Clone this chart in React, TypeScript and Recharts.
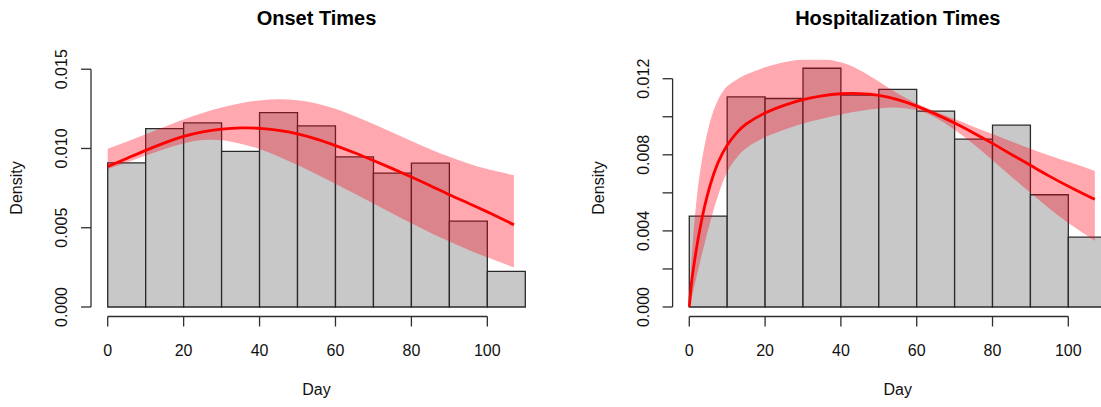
import React from 'react';
import { ComposedChart, Area, Line, XAxis, YAxis, ReferenceArea, ReferenceLine } from 'recharts';

// ---------- data ----------
const binEdges = [0, 10, 20, 30, 40, 50, 60, 70, 80, 90, 100, 110];
const onsetDensity = [0.00909, 0.01125, 0.01161, 0.00982, 0.01226, 0.01142, 0.00947, 0.00845, 0.00908, 0.00542, 0.00225];
const hospDensity = [0.00478, 0.01105, 0.01096, 0.01255, 0.01114, 0.01144, 0.0103, 0.00882, 0.00956, 0.0059, 0.00367];

const onsetDays = [0, 5, 10, 15, 20, 25, 30, 35, 40, 45, 50, 55, 60, 65, 70, 75, 80, 85, 90, 95, 100, 105, 107];
const onsetFit = [0.00886, 0.00937, 0.00988, 0.01035, 0.01076, 0.01105, 0.01122, 0.0113, 0.01127, 0.01114, 0.01092, 0.01059, 0.01018, 0.00973, 0.00924, 0.00873, 0.0082, 0.00765, 0.00708, 0.00655, 0.006, 0.00542, 0.00518];
const onsetLower = [0.0087, 0.00912, 0.00955, 0.00997, 0.01032, 0.01053, 0.01052, 0.0103, 0.00997, 0.0095, 0.00895, 0.00838, 0.00778, 0.00716, 0.00653, 0.0059, 0.00528, 0.00469, 0.00413, 0.00361, 0.00313, 0.00268, 0.0025];
const onsetUpper = [0.00999, 0.01042, 0.01089, 0.01137, 0.01183, 0.01224, 0.01258, 0.01285, 0.01303, 0.0131, 0.01304, 0.01284, 0.0125, 0.01205, 0.01154, 0.01101, 0.01047, 0.00995, 0.00947, 0.00905, 0.0087, 0.00842, 0.00832];

const hospDays = [0, 0.5, 1, 2, 3, 4, 5.5, 7.5, 10, 12.5, 15, 20, 25, 30, 35, 40, 45, 50, 55, 60, 65, 70, 75, 80, 85, 90, 95, 100, 105, 107];
const hospFit = [0, 0.0011, 0.0019, 0.0032, 0.0043, 0.00525, 0.0064, 0.00755, 0.0085, 0.00915, 0.00962, 0.0102, 0.0106, 0.0109, 0.0111, 0.01121, 0.01122, 0.01113, 0.0109, 0.01056, 0.01014, 0.00967, 0.00915, 0.0086, 0.00802, 0.00745, 0.00688, 0.00635, 0.00585, 0.00566];
const hospLower = [0, 0.0004, 0.0008, 0.00165, 0.0025, 0.0033, 0.00445, 0.0058, 0.0071, 0.00785, 0.00835, 0.00892, 0.00932, 0.00964, 0.0099, 0.01012, 0.0103, 0.01043, 0.01048, 0.01035, 0.00995, 0.00932, 0.00855, 0.00772, 0.00685, 0.006, 0.00518, 0.00442, 0.00375, 0.00348];
const hospUpper = [0, 0.0022, 0.0036, 0.0058, 0.0073, 0.00845, 0.00975, 0.01085, 0.0116, 0.01195, 0.01222, 0.0126, 0.01287, 0.01302, 0.01304, 0.01286, 0.01245, 0.01185, 0.01122, 0.0107, 0.01027, 0.00988, 0.00948, 0.00909, 0.0087, 0.00832, 0.00797, 0.00763, 0.0073, 0.00715];

const dayTicks = [0, 20, 40, 60, 80, 100];
const onsetYTicks = [0, 0.005, 0.01, 0.015];
const onsetYLabels = ['0.000', '0.005', '0.010', '0.015'];
const hospYTicks = [0, 0.002, 0.004, 0.006, 0.008, 0.01, 0.012];
const hospYLabels = ['0.000', '', '0.004', '', '0.008', '', '0.012'];

// ---------- styling ----------
const FONT = '"Liberation Sans", Arial, Helvetica, sans-serif';
const AXIS = '#2e2e2e';
const X_DOMAIN: [number, number] = [-4.4, 114.4];

type PanelProps = {
  width: number;
  marginLeft: number;
  marginRight: number;
  bins: number[];
  days: number[];
  fit: number[];
  lower: number[];
  upper: number[];
  yTicks: number[];
  yLabels: string[];
  yDomain: [number, number];
};

function Panel(p: PanelProps) {
  const rows = p.days.map((d, i) => ({ day: d, fit: p.fit[i], band: [p.lower[i], p.upper[i]] }));
  const yMaxTick = p.yTicks[p.yTicks.length - 1];

  const XTick = (props: any) => {
    const { x, y, payload } = props;
    return (
      <text x={x} y={y + 29} textAnchor="middle" fontFamily={FONT} fontSize={16} fill="#111">
        {String(payload.value)}
      </text>
    );
  };
  const YTick = (props: any) => {
    const { x, y, payload } = props;
    let idx = -1;
    p.yTicks.forEach((t, i) => {
      if (Math.abs(t - payload.value) < 1e-9) idx = i;
    });
    const label = idx >= 0 ? p.yLabels[idx] : '';
    if (!label) return <g />;
    const bx = x - 14;
    return (
      <text x={bx} y={y} transform={`rotate(-90, ${bx}, ${y})`} textAnchor="middle" fontFamily={FONT} fontSize={16} fill="#111">
        {label}
      </text>
    );
  };

  return (
    <ComposedChart
      width={p.width}
      height={407}
      data={rows}
      margin={{ top: 59.7, right: p.marginRight, bottom: 30.5, left: p.marginLeft }}
    >
      <XAxis
        dataKey="day"
        type="number"
        domain={X_DOMAIN}
        ticks={dayTicks}
        interval={0}
        allowDataOverflow
        axisLine={false}
        tickLine={{ stroke: AXIS, strokeWidth: 1.3 }}
        tickSize={10}
        tickMargin={0}
        height={60}
        tick={XTick}
      />
      <YAxis
        type="number"
        domain={p.yDomain}
        ticks={p.yTicks}
        interval={0}
        allowDataOverflow
        axisLine={false}
        tickLine={{ stroke: AXIS, strokeWidth: 1.3 }}
        tickSize={10}
        tickMargin={0}
        width={1}
        tick={YTick}
      />
      {p.bins.map((v, i) => (
        <ReferenceArea
          key={'bin' + i}
          x1={binEdges[i]}
          x2={binEdges[i + 1]}
          y1={0}
          y2={v}
          fill="#c8c8c8"
          fillOpacity={1}
          stroke="#2a2a2a"
          strokeWidth={1.3}
          ifOverflow="visible"
        />
      ))}
      <Area
        dataKey="band"
        type="natural"
        stroke="none"
        fill="rgb(255,0,22)"
        fillOpacity={0.34}
        dot={false}
        activeDot={false}
        isAnimationActive={false}
      />
      <Line
        dataKey="fit"
        type="natural"
        stroke="#ff0000"
        strokeWidth={2.8}
        dot={false}
        activeDot={false}
        isAnimationActive={false}
      />
      <ReferenceLine
        segment={[{ x: X_DOMAIN[0], y: 0 }, { x: X_DOMAIN[0], y: yMaxTick }]}
        stroke={AXIS}
        strokeWidth={1.3}
        ifOverflow="visible"
      />
      <ReferenceLine
        segment={[{ x: 0, y: p.yDomain[0] }, { x: 100, y: p.yDomain[0] }]}
        stroke={AXIS}
        strokeWidth={1.3}
        ifOverflow="visible"
      />
    </ComposedChart>
  );
}

export default function App() {
  return (
    <div
      style={{
        position: 'absolute',
        left: 0,
        top: 0,
        width: 1101,
        height: 407,
        overflow: 'hidden',
        background: '#ffffff',
      }}
    >
      <div style={{ position: 'absolute', left: 0, top: 0 }}>
        <Panel
          width={550}
          marginLeft={90}
          marginRight={8}
          bins={onsetDensity}
          days={onsetDays}
          fit={onsetFit}
          lower={onsetLower}
          upper={onsetUpper}
          yTicks={onsetYTicks}
          yLabels={onsetYLabels}
          yDomain={[-0.0006, 0.0156]}
        />
      </div>
      <div style={{ position: 'absolute', left: 550, top: 0 }}>
        <Panel
          width={600}
          marginLeft={121.6}
          marginRight={27.1}
          bins={hospDensity}
          days={hospDays}
          fit={hospFit}
          lower={hospLower}
          upper={hospUpper}
          yTicks={hospYTicks}
          yLabels={hospYLabels}
          yDomain={[-0.0005, 0.013]}
        />
      </div>
      <svg
        width={1101}
        height={407}
        style={{ position: 'absolute', left: 0, top: 0, pointerEvents: 'none' }}
      >
        <text x={316.5} y={25} textAnchor="middle" fontFamily={FONT} fontSize={20} fontWeight="bold" fill="#000">
          Onset Times
        </text>
        <text x={897.8} y={25} textAnchor="middle" fontFamily={FONT} fontSize={20} fontWeight="bold" fill="#000">
          Hospitalization Times
        </text>
        <text x={316.5} y={395} textAnchor="middle" fontFamily={FONT} fontSize={16} fill="#111">
          Day
        </text>
        <text x={897.8} y={395} textAnchor="middle" fontFamily={FONT} fontSize={16} fill="#111">
          Day
        </text>
        <text x={22} y={188} transform="rotate(-90, 22, 188)" textAnchor="middle" fontFamily={FONT} fontSize={16} fill="#111">
          Density
        </text>
        <text x={604} y={188} transform="rotate(-90, 604, 188)" textAnchor="middle" fontFamily={FONT} fontSize={16} fill="#111">
          Density
        </text>
      </svg>
    </div>
  );
}
